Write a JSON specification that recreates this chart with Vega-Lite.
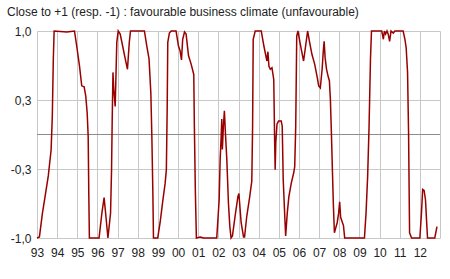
{
  "$schema": "https://vega.github.io/schema/vega-lite/v6.json",
  "width": 403,
  "height": 207,
  "autosize": "none",
  "padding": {"left": 37, "top": 31, "right": 10, "bottom": 41},
  "background": "white",
  "title": {
    "text": "Close to +1 (resp. -1) : favourable business climate (unfavourable)",
    "anchor": "start",
    "frame": "group",
    "dx": -30,
    "offset": 6,
    "font": "Liberation Sans",
    "fontSize": 12,
    "fontWeight": "normal",
    "color": "#222222"
  },
  "config": {
    "view": {"stroke": null},
    "axis": {
      "labelFont": "Liberation Sans",
      "labelFontSize": 12,
      "labelColor": "#222222",
      "gridColor": "#c8c8c8",
      "gridOpacity": 1,
      "ticks": false,
      "domain": false
    }
  },
  "data": {
    "values": [
      {"t": 1993.00, "v": -1}, {"t": 1993.12, "v": -0.99}, {"t": 1993.27, "v": -0.76}, {"t": 1993.40, "v": -0.60},
      {"t": 1993.56, "v": -0.40}, {"t": 1993.70, "v": -0.15}, {"t": 1993.76, "v": 0.18}, {"t": 1993.81, "v": 0.73},
      {"t": 1993.85, "v": 1.0}, {"t": 1994.48, "v": 0.99}, {"t": 1994.86, "v": 1.0}, {"t": 1994.97, "v": 0.855},
      {"t": 1995.11, "v": 0.66}, {"t": 1995.22, "v": 0.47}, {"t": 1995.34, "v": 0.46}, {"t": 1995.42, "v": 0.37},
      {"t": 1995.49, "v": 0.21}, {"t": 1995.54, "v": -0.02}, {"t": 1995.57, "v": -0.56}, {"t": 1995.60, "v": -1},
      {"t": 1996.08, "v": -1}, {"t": 1996.22, "v": -0.76}, {"t": 1996.33, "v": -0.61}, {"t": 1996.42, "v": -0.79},
      {"t": 1996.52, "v": -1}, {"t": 1996.65, "v": -0.76}, {"t": 1996.70, "v": -0.34}, {"t": 1996.73, "v": 0.11},
      {"t": 1996.77, "v": 0.60}, {"t": 1996.81, "v": 0.44}, {"t": 1996.88, "v": 0.27}, {"t": 1996.91, "v": 0.50},
      {"t": 1996.96, "v": 0.89}, {"t": 1997.03, "v": 1}, {"t": 1997.13, "v": 0.97}, {"t": 1997.25, "v": 0.855},
      {"t": 1997.38, "v": 0.73}, {"t": 1997.49, "v": 0.63}, {"t": 1997.58, "v": 0.89}, {"t": 1997.64, "v": 1},
      {"t": 1998.33, "v": 1}, {"t": 1998.45, "v": 0.855}, {"t": 1998.56, "v": 0.73}, {"t": 1998.65, "v": 0.40},
      {"t": 1998.70, "v": -0.02}, {"t": 1998.75, "v": -0.56}, {"t": 1998.78, "v": -1}, {"t": 1998.99, "v": -1},
      {"t": 1999.11, "v": -0.85}, {"t": 1999.23, "v": -0.66}, {"t": 1999.36, "v": -0.47}, {"t": 1999.42, "v": -0.34},
      {"t": 1999.46, "v": 0.24}, {"t": 1999.49, "v": 0.89}, {"t": 1999.57, "v": 0.98}, {"t": 1999.66, "v": 1},
      {"t": 1999.90, "v": 1}, {"t": 2000.02, "v": 0.855}, {"t": 2000.10, "v": 0.81}, {"t": 2000.17, "v": 0.72},
      {"t": 2000.23, "v": 0.92}, {"t": 2000.32, "v": 0.99}, {"t": 2000.40, "v": 0.97}, {"t": 2000.52, "v": 0.76},
      {"t": 2000.65, "v": 0.68}, {"t": 2000.78, "v": 0.58}, {"t": 2000.81, "v": 0.08}, {"t": 2000.86, "v": -0.56},
      {"t": 2000.91, "v": -1}, {"t": 2001.10, "v": -0.99}, {"t": 2001.18, "v": -0.995}, {"t": 2001.26, "v": -1},
      {"t": 2001.92, "v": -1}, {"t": 2002.04, "v": -0.63}, {"t": 2002.09, "v": -0.24}, {"t": 2002.14, "v": -0.02},
      {"t": 2002.17, "v": 0.15}, {"t": 2002.20, "v": -0.145}, {"t": 2002.25, "v": 0.08}, {"t": 2002.30, "v": 0.23},
      {"t": 2002.35, "v": 0.02}, {"t": 2002.42, "v": -0.24}, {"t": 2002.50, "v": -0.66}, {"t": 2002.57, "v": -0.89},
      {"t": 2002.63, "v": -1}, {"t": 2002.70, "v": -0.98}, {"t": 2002.83, "v": -0.79}, {"t": 2002.97, "v": -0.60},
      {"t": 2003.02, "v": -0.57}, {"t": 2003.13, "v": -0.85}, {"t": 2003.25, "v": -0.99}, {"t": 2003.30, "v": -0.99},
      {"t": 2003.41, "v": -0.79}, {"t": 2003.55, "v": -0.61}, {"t": 2003.66, "v": -0.45}, {"t": 2003.70, "v": 0.08},
      {"t": 2003.73, "v": 0.92}, {"t": 2003.83, "v": 1}, {"t": 2004.13, "v": 1}, {"t": 2004.26, "v": 0.855},
      {"t": 2004.41, "v": 0.71}, {"t": 2004.46, "v": 0.80}, {"t": 2004.51, "v": 0.66}, {"t": 2004.58, "v": 0.63},
      {"t": 2004.66, "v": 0.645}, {"t": 2004.75, "v": 0.53}, {"t": 2004.79, "v": -0.02}, {"t": 2004.82, "v": -0.34},
      {"t": 2004.85, "v": -0.08}, {"t": 2004.91, "v": 0.10}, {"t": 2004.99, "v": 0.13}, {"t": 2005.12, "v": 0.13},
      {"t": 2005.17, "v": 0.08}, {"t": 2005.22, "v": -0.44}, {"t": 2005.29, "v": -0.76}, {"t": 2005.34, "v": -0.98},
      {"t": 2005.42, "v": -0.76}, {"t": 2005.50, "v": -0.60}, {"t": 2005.62, "v": -0.47}, {"t": 2005.74, "v": -0.37},
      {"t": 2005.79, "v": -0.31}, {"t": 2005.84, "v": 0.08}, {"t": 2005.89, "v": 0.95}, {"t": 2005.95, "v": 1},
      {"t": 2006.05, "v": 0.89}, {"t": 2006.17, "v": 0.77}, {"t": 2006.23, "v": 0.71}, {"t": 2006.33, "v": 0.855},
      {"t": 2006.43, "v": 1}, {"t": 2006.53, "v": 0.89}, {"t": 2006.65, "v": 0.77}, {"t": 2006.78, "v": 0.68},
      {"t": 2006.91, "v": 0.55}, {"t": 2006.98, "v": 0.47}, {"t": 2007.06, "v": 0.45}, {"t": 2007.15, "v": 0.63},
      {"t": 2007.21, "v": 0.81}, {"t": 2007.25, "v": 0.90}, {"t": 2007.30, "v": 0.74}, {"t": 2007.37, "v": 0.63},
      {"t": 2007.45, "v": 0.56}, {"t": 2007.51, "v": 0.52}, {"t": 2007.56, "v": 0.34}, {"t": 2007.61, "v": 0.02},
      {"t": 2007.66, "v": -0.34}, {"t": 2007.71, "v": -0.69}, {"t": 2007.76, "v": -0.95}, {"t": 2007.83, "v": -0.90},
      {"t": 2007.90, "v": -0.85}, {"t": 2007.97, "v": -0.76}, {"t": 2008.02, "v": -0.65}, {"t": 2008.07, "v": -0.80},
      {"t": 2008.14, "v": -0.84}, {"t": 2008.21, "v": -0.88}, {"t": 2008.27, "v": -1}, {"t": 2009.25, "v": -1},
      {"t": 2009.33, "v": -0.76}, {"t": 2009.41, "v": -0.40}, {"t": 2009.48, "v": 0.08}, {"t": 2009.55, "v": 0.73},
      {"t": 2009.60, "v": 1}, {"t": 2010.11, "v": 1}, {"t": 2010.19, "v": 0.92}, {"t": 2010.24, "v": 1},
      {"t": 2010.30, "v": 0.97}, {"t": 2010.37, "v": 1}, {"t": 2010.43, "v": 0.97}, {"t": 2010.50, "v": 0.90},
      {"t": 2010.57, "v": 1}, {"t": 2010.68, "v": 0.98}, {"t": 2010.76, "v": 1}, {"t": 2011.17, "v": 1},
      {"t": 2011.26, "v": 0.92}, {"t": 2011.32, "v": 0.84}, {"t": 2011.39, "v": 0.60}, {"t": 2011.44, "v": 0.02},
      {"t": 2011.49, "v": -0.95}, {"t": 2011.59, "v": -1}, {"t": 2012.00, "v": -1}, {"t": 2012.08, "v": -0.76},
      {"t": 2012.14, "v": -0.53}, {"t": 2012.21, "v": -0.54}, {"t": 2012.28, "v": -0.63}, {"t": 2012.33, "v": -0.82},
      {"t": 2012.38, "v": -1}, {"t": 2012.74, "v": -1}, {"t": 2012.80, "v": -0.94}, {"t": 2012.85, "v": -0.89}
    ]
  },
  "layer": [
    {
      "data": {"values": [{"z": 0}]},
      "mark": {"type": "rule", "color": "#8c8c8c", "strokeWidth": 1},
      "encoding": {"y": {"field": "z", "type": "quantitative"}}
    },
    {
      "mark": {"type": "line", "color": "#990000", "strokeWidth": 1.5, "interpolate": "linear"},
      "encoding": {
        "x": {
          "field": "t",
          "type": "quantitative",
          "scale": {"domain": [1993, 2013], "nice": false, "zero": false},
          "axis": {
            "title": null,
            "values": [1993, 1994, 1995, 1996, 1997, 1998, 1999, 2000, 2001, 2002, 2003, 2004, 2005, 2006, 2007, 2008, 2009, 2010, 2011, 2012, 2013],
            "labelExpr": "datum.value == 2013 ? '' : substring(toString(datum.value), 2, 4)",
            "labelFlush": false,
            "labelPadding": 9,
            "labelOverlap": false,
            "grid": true
          }
        },
        "y": {
          "field": "v",
          "type": "quantitative",
          "scale": {"domain": [-1, 1], "nice": false},
          "axis": {
            "title": null,
            "values": [-1, -0.3333333, 0.3333333, 1],
            "labelExpr": "(datum.value < 0 ? '-' : '') + replace(format(abs(datum.value), '.1f'), '.', ',')",
            "labelPadding": 6,
            "labelFlush": false,
            "grid": true
          }
        }
      }
    }
  ]
}
